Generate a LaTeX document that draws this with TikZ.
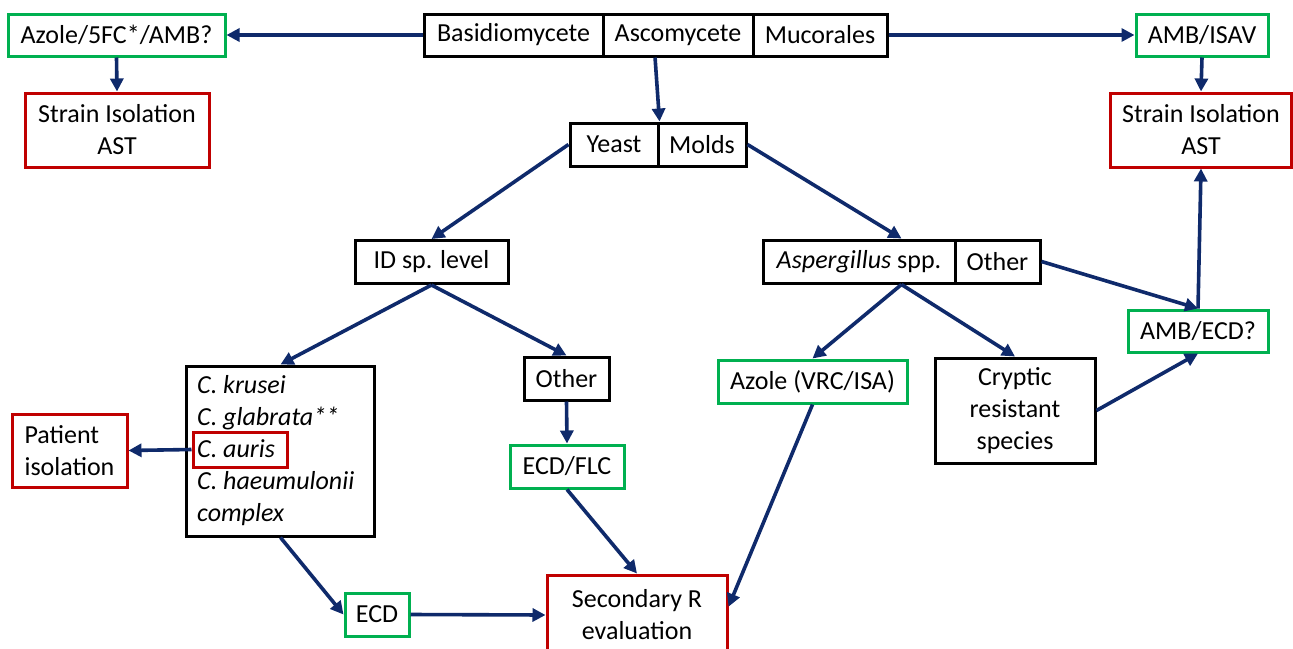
\documentclass[tikz,border=0pt]{standalone}
\usepackage{fontspec}
\setmainfont{Carlito}
\usetikzlibrary{arrows.meta,calc}
\definecolor{navy}{HTML}{0F2A6B}
\definecolor{grn}{HTML}{00B050}
\definecolor{rd}{HTML}{C00000}
\tikzset{
  bx/.style={draw=black, line width=3pt, fill=white, inner sep=0pt, align=center,
    font=\fontsize{26}{32}\selectfont},
  gbx/.style={bx, draw=grn},
  rbx/.style={bx, draw=rd},
  arr/.style={draw=navy, line width=3.6pt, -{Triangle[length=13pt,width=13pt]}},
}
\begin{document}
\begin{tikzpicture}[x=1pt,y=-1pt]
\useasboundingbox (0,0) rectangle (1293,648);
\clip (0,0) rectangle (1293,648);
% top row
\node[gbx, minimum width=217pt, minimum height=42pt] (az5) at (116.5,35) {Azole/5FC*/AMB?};
\node[rbx, minimum width=184pt, minimum height=74pt] (sL) at (117,130) {Strain Isolation\\AST};
\node[bx, minimum width=179pt, minimum height=42pt] (basid) at (513.5,35) {Basidiomycete};
\node[bx, minimum width=150pt, minimum height=42pt] (asco) at (678,35) {Ascomycete};
\node[bx, minimum width=134pt, minimum height=42pt] (muco) at (820,35) {Mucorales};
\node[gbx, minimum width=132pt, minimum height=42pt] (amb) at (1202,35) {AMB/ISAV};
\node[rbx, minimum width=181pt, minimum height=74pt] (sR) at (1201,130) {Strain Isolation\\AST};
% second level
\node[bx, minimum width=88pt, minimum height=43pt] (yeast) at (614,144.5) {Yeast};
\node[bx, minimum width=88pt, minimum height=43pt] (molds) at (702,144.5) {Molds};
% third level
\node[bx, minimum width=153pt, minimum height=43pt] (id) at (431.5,262) {ID sp. level};
\node[bx, minimum width=192pt, minimum height=43pt] (asp) at (859,261.5) {\textit{Aspergillus} spp.};
\node[bx, minimum width=85pt, minimum height=43pt] (oth2) at (997.5,261.5) {Other};
\node[gbx, minimum width=140pt, minimum height=42pt] (ambecd) at (1198,331) {AMB/ECD?};
% fourth level
\node[gbx, minimum width=189pt, minimum height=43pt] (azv) at (812.5,381.5) {Azole (VRC/ISA)};
\node[bx, minimum width=160pt, minimum height=105pt] (cry) at (1015,410.5) {Cryptic\\resistant\\species};
\node[bx, minimum width=188pt, minimum height=170pt] (cbox) at (280.5,451) {};
\node[font=\fontsize{26}{32}\selectfont\itshape, align=left, anchor=west, inner sep=0pt] (clist) at (197,451)
  {C. krusei\\C. glabrata**\\C. auris\\C. haeumulonii\\complex};
\node[draw=rd, line width=3pt, inner sep=0pt, minimum width=94pt, minimum height=35pt] (cauris) at (240,449.5) {};
\node[rbx, align=left, minimum width=115pt, minimum height=73pt] (pat) at (69.5,450.5) {Patient\\isolation};
\node[bx, minimum width=85pt, minimum height=43pt] (oth1) at (566.5,378.5) {Other};
\node[gbx, minimum width=114pt, minimum height=43pt] (ecdflc) at (567,466.5) {ECD/FLC};
\node[gbx, minimum width=64pt, minimum height=43pt] (ecd) at (377,614.5) {ECD};
\node[rbx, minimum width=180pt, minimum height=80pt] (sec) at (637,615) {Secondary R\\evaluation};
% helper coordinates
\coordinate (aspTop) at ($(asp.north west)!0.5!(oth2.north east)$);
\coordinate (aspBot) at ($(asp.south west)!0.5!(oth2.south east)$);
\coordinate (ascoBot) at ($(asco.south west)!0.35!(asco.south east)$);
\coordinate (secR) at ($(sec.north east)!0.4!(sec.south east)$);
% connectors
\draw[arr] (basid.west) -- (az5.east);
\draw[arr] (az5.south) -- (sL.north);
\draw[arr] (muco.east) -- (amb.west);
\draw[arr] (amb.south) -- (sR.north);
\draw[arr] (ascoBot) -- (yeast.north east);
\draw[arr] (yeast.west) -- (id.north);
\draw[arr] (molds.east) -- (aspTop);
\draw[arr] (id.south) -- (cbox.north);
\draw[arr] (id.south) -- (oth1.north);
\draw[arr] (oth1.south) -- (ecdflc.north);
\draw[arr] (cauris.west) -- (pat.east);
\draw[arr] (cbox.south) -- (ecd.west);
\draw[arr] (ecd.east) -- (sec.west);
\draw[arr] (ecdflc.south) -- (sec.north);
\draw[arr] (azv.south) -- (secR);
\draw[arr] (aspBot) -- (azv.north);
\draw[arr] (aspBot) -- (cry.north);
\draw[arr] (oth2.east) -- (ambecd.north);
\draw[arr] (cry.east) -- (ambecd.south);
\draw[arr] (ambecd.north) -- (sR.south);
\end{tikzpicture}
\end{document}
